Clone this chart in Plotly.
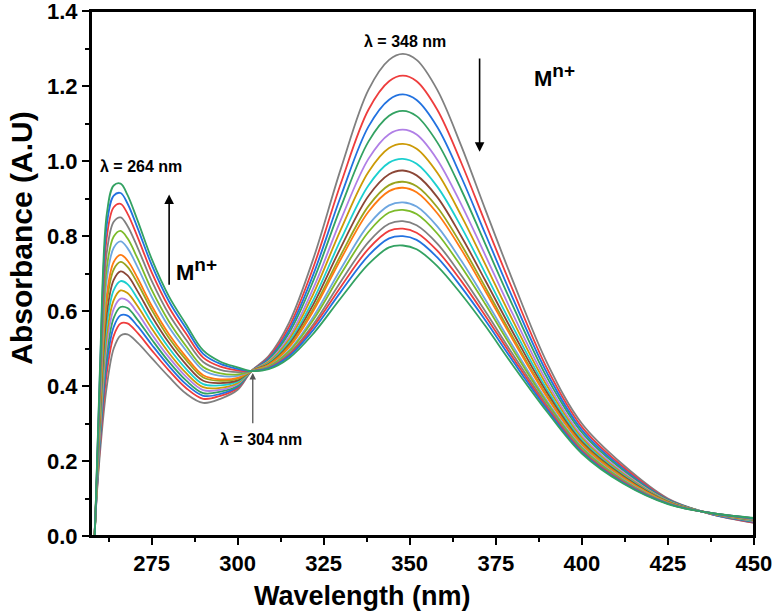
import plotly.graph_objects as go

wavelength = [257, 258.5, 260, 262, 264, 266, 268, 271, 275, 280, 285, 290, 295, 300, 304,
              309, 315, 322, 330, 338, 344, 348, 352, 358, 365, 372, 380, 390, 400, 412, 425, 437, 450]

absorb_0 = [-0.30, 0.02, 0.22, 0.40, 0.50, 0.535, 0.538, 0.515, 0.475, 0.425, 0.38, 0.355, 0.366, 0.39, 0.44, 0.48, 0.57, 0.74, 0.98, 1.19, 1.27, 1.286, 1.27, 1.19, 1.04, 0.87, 0.68, 0.46, 0.30, 0.19, 0.10, 0.06, 0.035]
absorb_1 = [-0.316, 0.018, 0.238, 0.436, 0.534, 0.567, 0.567, 0.541, 0.496, 0.442, 0.395, 0.366, 0.374, 0.395, 0.44, 0.476, 0.559, 0.717, 0.941, 1.137, 1.213, 1.228, 1.213, 1.137, 0.995, 0.835, 0.655, 0.445, 0.291, 0.184, 0.098, 0.060, 0.036]
absorb_2 = [-0.327, 0.017, 0.251, 0.462, 0.558, 0.589, 0.588, 0.559, 0.511, 0.454, 0.405, 0.374, 0.379, 0.398, 0.44, 0.473, 0.550, 0.698, 0.907, 1.092, 1.164, 1.178, 1.163, 1.091, 0.957, 0.805, 0.633, 0.433, 0.283, 0.179, 0.097, 0.060, 0.038]
absorb_3 = [-0.338, 0.016, 0.263, 0.486, 0.582, 0.611, 0.608, 0.576, 0.525, 0.465, 0.415, 0.381, 0.385, 0.401, 0.44, 0.470, 0.542, 0.681, 0.878, 1.052, 1.121, 1.134, 1.120, 1.050, 0.923, 0.778, 0.613, 0.421, 0.276, 0.175, 0.096, 0.061, 0.039]
absorb_4 = [-0.349, 0.015, 0.276, 0.512, 0.606, 0.633, 0.628, 0.594, 0.539, 0.477, 0.425, 0.389, 0.390, 0.405, 0.44, 0.466, 0.532, 0.661, 0.844, 1.006, 1.072, 1.084, 1.071, 1.004, 0.884, 0.748, 0.591, 0.409, 0.268, 0.170, 0.094, 0.061, 0.040]
absorb_5 = [-0.359, 0.014, 0.288, 0.537, 0.629, 0.655, 0.648, 0.612, 0.554, 0.489, 0.435, 0.397, 0.395, 0.408, 0.44, 0.464, 0.525, 0.646, 0.818, 0.971, 1.035, 1.046, 1.033, 0.969, 0.854, 0.724, 0.574, 0.399, 0.262, 0.166, 0.093, 0.061, 0.041]
absorb_6 = [-0.372, 0.013, 0.303, 0.565, 0.656, 0.680, 0.672, 0.632, 0.570, 0.502, 0.446, 0.405, 0.402, 0.412, 0.44, 0.461, 0.518, 0.630, 0.791, 0.935, 0.996, 1.006, 0.993, 0.932, 0.824, 0.700, 0.557, 0.389, 0.256, 0.163, 0.092, 0.061, 0.042]
absorb_7 = [-0.384, 0.012, 0.317, 0.594, 0.683, 0.706, 0.695, 0.652, 0.587, 0.516, 0.458, 0.414, 0.408, 0.415, 0.44, 0.459, 0.512, 0.618, 0.770, 0.907, 0.965, 0.975, 0.962, 0.904, 0.799, 0.681, 0.543, 0.381, 0.251, 0.160, 0.091, 0.061, 0.043]
absorb_8 = [-0.397, 0.010, 0.332, 0.623, 0.711, 0.731, 0.718, 0.673, 0.604, 0.529, 0.470, 0.423, 0.414, 0.419, 0.44, 0.457, 0.507, 0.607, 0.750, 0.880, 0.936, 0.945, 0.933, 0.877, 0.777, 0.663, 0.530, 0.373, 0.247, 0.157, 0.090, 0.061, 0.044]
absorb_9 = [-0.406, 0.009, 0.342, 0.644, 0.731, 0.750, 0.735, 0.687, 0.615, 0.539, 0.478, 0.429, 0.418, 0.422, 0.44, 0.456, 0.504, 0.600, 0.739, 0.865, 0.920, 0.929, 0.917, 0.861, 0.764, 0.653, 0.523, 0.369, 0.244, 0.155, 0.090, 0.061, 0.044]
absorb_10 = [-0.424, 0.008, 0.362, 0.685, 0.769, 0.786, 0.768, 0.716, 0.639, 0.558, 0.495, 0.442, 0.427, 0.427, 0.44, 0.453, 0.496, 0.585, 0.713, 0.830, 0.882, 0.890, 0.879, 0.826, 0.734, 0.630, 0.506, 0.359, 0.238, 0.151, 0.088, 0.062, 0.045]
absorb_11 = [-0.438, 0.006, 0.378, 0.716, 0.799, 0.814, 0.794, 0.739, 0.657, 0.573, 0.507, 0.451, 0.434, 0.431, 0.44, 0.452, 0.493, 0.577, 0.699, 0.811, 0.863, 0.870, 0.859, 0.807, 0.718, 0.618, 0.497, 0.354, 0.235, 0.149, 0.088, 0.062, 0.046]
absorb_12 = [-0.455, 0.004, 0.399, 0.757, 0.838, 0.850, 0.827, 0.768, 0.681, 0.592, 0.524, 0.464, 0.443, 0.437, 0.44, 0.449, 0.487, 0.565, 0.679, 0.784, 0.833, 0.840, 0.829, 0.780, 0.695, 0.599, 0.484, 0.347, 0.230, 0.146, 0.087, 0.062, 0.046]
absorb_13 = [-0.473, 0.003, 0.419, 0.798, 0.877, 0.886, 0.860, 0.796, 0.704, 0.611, 0.540, 0.476, 0.452, 0.442, 0.44, 0.448, 0.483, 0.558, 0.665, 0.766, 0.814, 0.820, 0.809, 0.761, 0.680, 0.587, 0.475, 0.341, 0.227, 0.144, 0.086, 0.062, 0.047]
absorb_14 = [-0.488, 0.001, 0.436, 0.831, 0.908, 0.915, 0.887, 0.820, 0.724, 0.627, 0.554, 0.486, 0.459, 0.446, 0.44, 0.447, 0.480, 0.550, 0.652, 0.748, 0.794, 0.800, 0.790, 0.743, 0.664, 0.575, 0.466, 0.336, 0.224, 0.142, 0.086, 0.062, 0.047]
absorb_15 = [-0.50, 0.0, 0.45, 0.86, 0.935, 0.94, 0.91, 0.84, 0.74, 0.64, 0.565, 0.495, 0.465, 0.45, 0.44, 0.445, 0.475, 0.54, 0.635, 0.725, 0.77, 0.775, 0.765, 0.72, 0.645, 0.56, 0.455, 0.33, 0.22, 0.14, 0.085, 0.062, 0.048]

curves = [absorb_0, absorb_1, absorb_2, absorb_3, absorb_4, absorb_5, absorb_6, absorb_7,
          absorb_8, absorb_9, absorb_10, absorb_11, absorb_12, absorb_13, absorb_14, absorb_15]

colors = ["#808080", "#ee3d3d", "#2272e0", "#33a262", "#b07fe6", "#cc9a06", "#1ccfcf", "#8b4636",
          "#99a41e", "#ff7a12", "#6ea6e0", "#7dbb2a", "#808080", "#ee3d3d", "#2272e0", "#33a262"]

x_ticks = [275, 300, 325, 350, 375, 400, 425, 450]
y_ticks = [0.0, 0.2, 0.4, 0.6, 0.8, 1.0, 1.2, 1.4]

FONT = "Liberation Sans, Arial, sans-serif"

fig = go.Figure()
for ys, c in zip(curves, colors):
    fig.add_trace(go.Scatter(x=wavelength, y=ys, mode="lines",
                             line=dict(color=c, width=1.8, shape="spline", smoothing=1.0),
                             showlegend=False, hoverinfo="skip"))

axis_common = dict(showline=True, linecolor="black", linewidth=2, mirror=True,
                   ticks="outside", tickcolor="black", tickwidth=1.5, ticklen=7,
                   showgrid=False, zeroline=False, automargin=False, ticklabeloverflow="allow",
                   tickfont=dict(family=FONT, size=22, color="black", weight="bold"))

fig.update_xaxes(range=[257.4, 450.02], tickvals=x_ticks, ticktext=[str(v) for v in x_ticks],
                 minor=dict(ticks="outside", dtick=12.5, tick0=250, ticklen=4, tickwidth=1.5, tickcolor="black"),
                 **axis_common)
fig.update_yaxes(range=[0, 1.4005], tickvals=y_ticks, ticktext=[f"{v:.1f}" for v in y_ticks],
                 minor=dict(ticks="outside", dtick=0.1, tick0=0, ticklen=4, tickwidth=1.5, tickcolor="black"),
                 **axis_common)

ann_font = dict(family=FONT, size=16, color="black", weight="bold")
title_font = dict(family=FONT, size=27, color="black", weight="bold")
mn = "M<sup><span style='font-size:19px'>n+</span></sup>"
annotations = [
    dict(xref="paper", yref="paper", x=0.41, y=-0.115, text="Wavelength (nm)", showarrow=False,
         font=title_font, xanchor="center", yanchor="middle"),
    dict(xref="paper", yref="paper", x=-0.105, y=0.567, text="Absorbance (A.U)", showarrow=False,
         font=dict(family=FONT, size=30, color="black", weight="bold"), textangle=-90,
         xanchor="center", yanchor="middle"),
    dict(x=348.5, y=1.319, text="λ = 348 nm", showarrow=False, font=ann_font),
    dict(x=370.3, y=1.025, ax=370.3, ay=1.278, axref="x", ayref="y", text="", showarrow=True,
         arrowhead=2, arrowsize=1.2, arrowwidth=1.6, arrowcolor="black"),
    dict(x=392, y=1.228, text=mn, showarrow=False, font=dict(family=FONT, size=22, color="black", weight="bold")),
    dict(x=271.8, y=0.987, text="λ = 264 nm", showarrow=False, font=ann_font),
    dict(x=280.1, y=0.911, ax=280.1, ay=0.666, axref="x", ayref="y", text="", showarrow=True,
         arrowhead=2, arrowsize=1.2, arrowwidth=1.6, arrowcolor="black"),
    dict(x=288, y=0.71, text=mn, showarrow=False, font=dict(family=FONT, size=22, color="black", weight="bold")),
    dict(x=306.9, y=0.257, text="λ = 304 nm", showarrow=False, font=ann_font),
    dict(x=304.4, y=0.435, ax=304.4, ay=0.297, axref="x", ayref="y", text="", showarrow=True,
         arrowhead=2, arrowsize=1.0, arrowwidth=1.3, arrowcolor="#555555"),
]

fig.update_layout(width=776, height=616, margin=dict(l=91, r=22, t=11, b=80),
                  paper_bgcolor="white", plot_bgcolor="white",
                  font=dict(family=FONT, color="black"),
                  annotations=annotations,
                  shapes=[dict(type="rect", xref="paper", yref="paper", x0=0, y0=0, x1=1, y1=1,
                               line=dict(color="black", width=2), fillcolor="rgba(0,0,0,0)", layer="above")])

fig.write_html("out.html", config={"displayModeBar": False},
               post_script="document.body.style.margin='0';document.body.style.overflow='hidden';")
